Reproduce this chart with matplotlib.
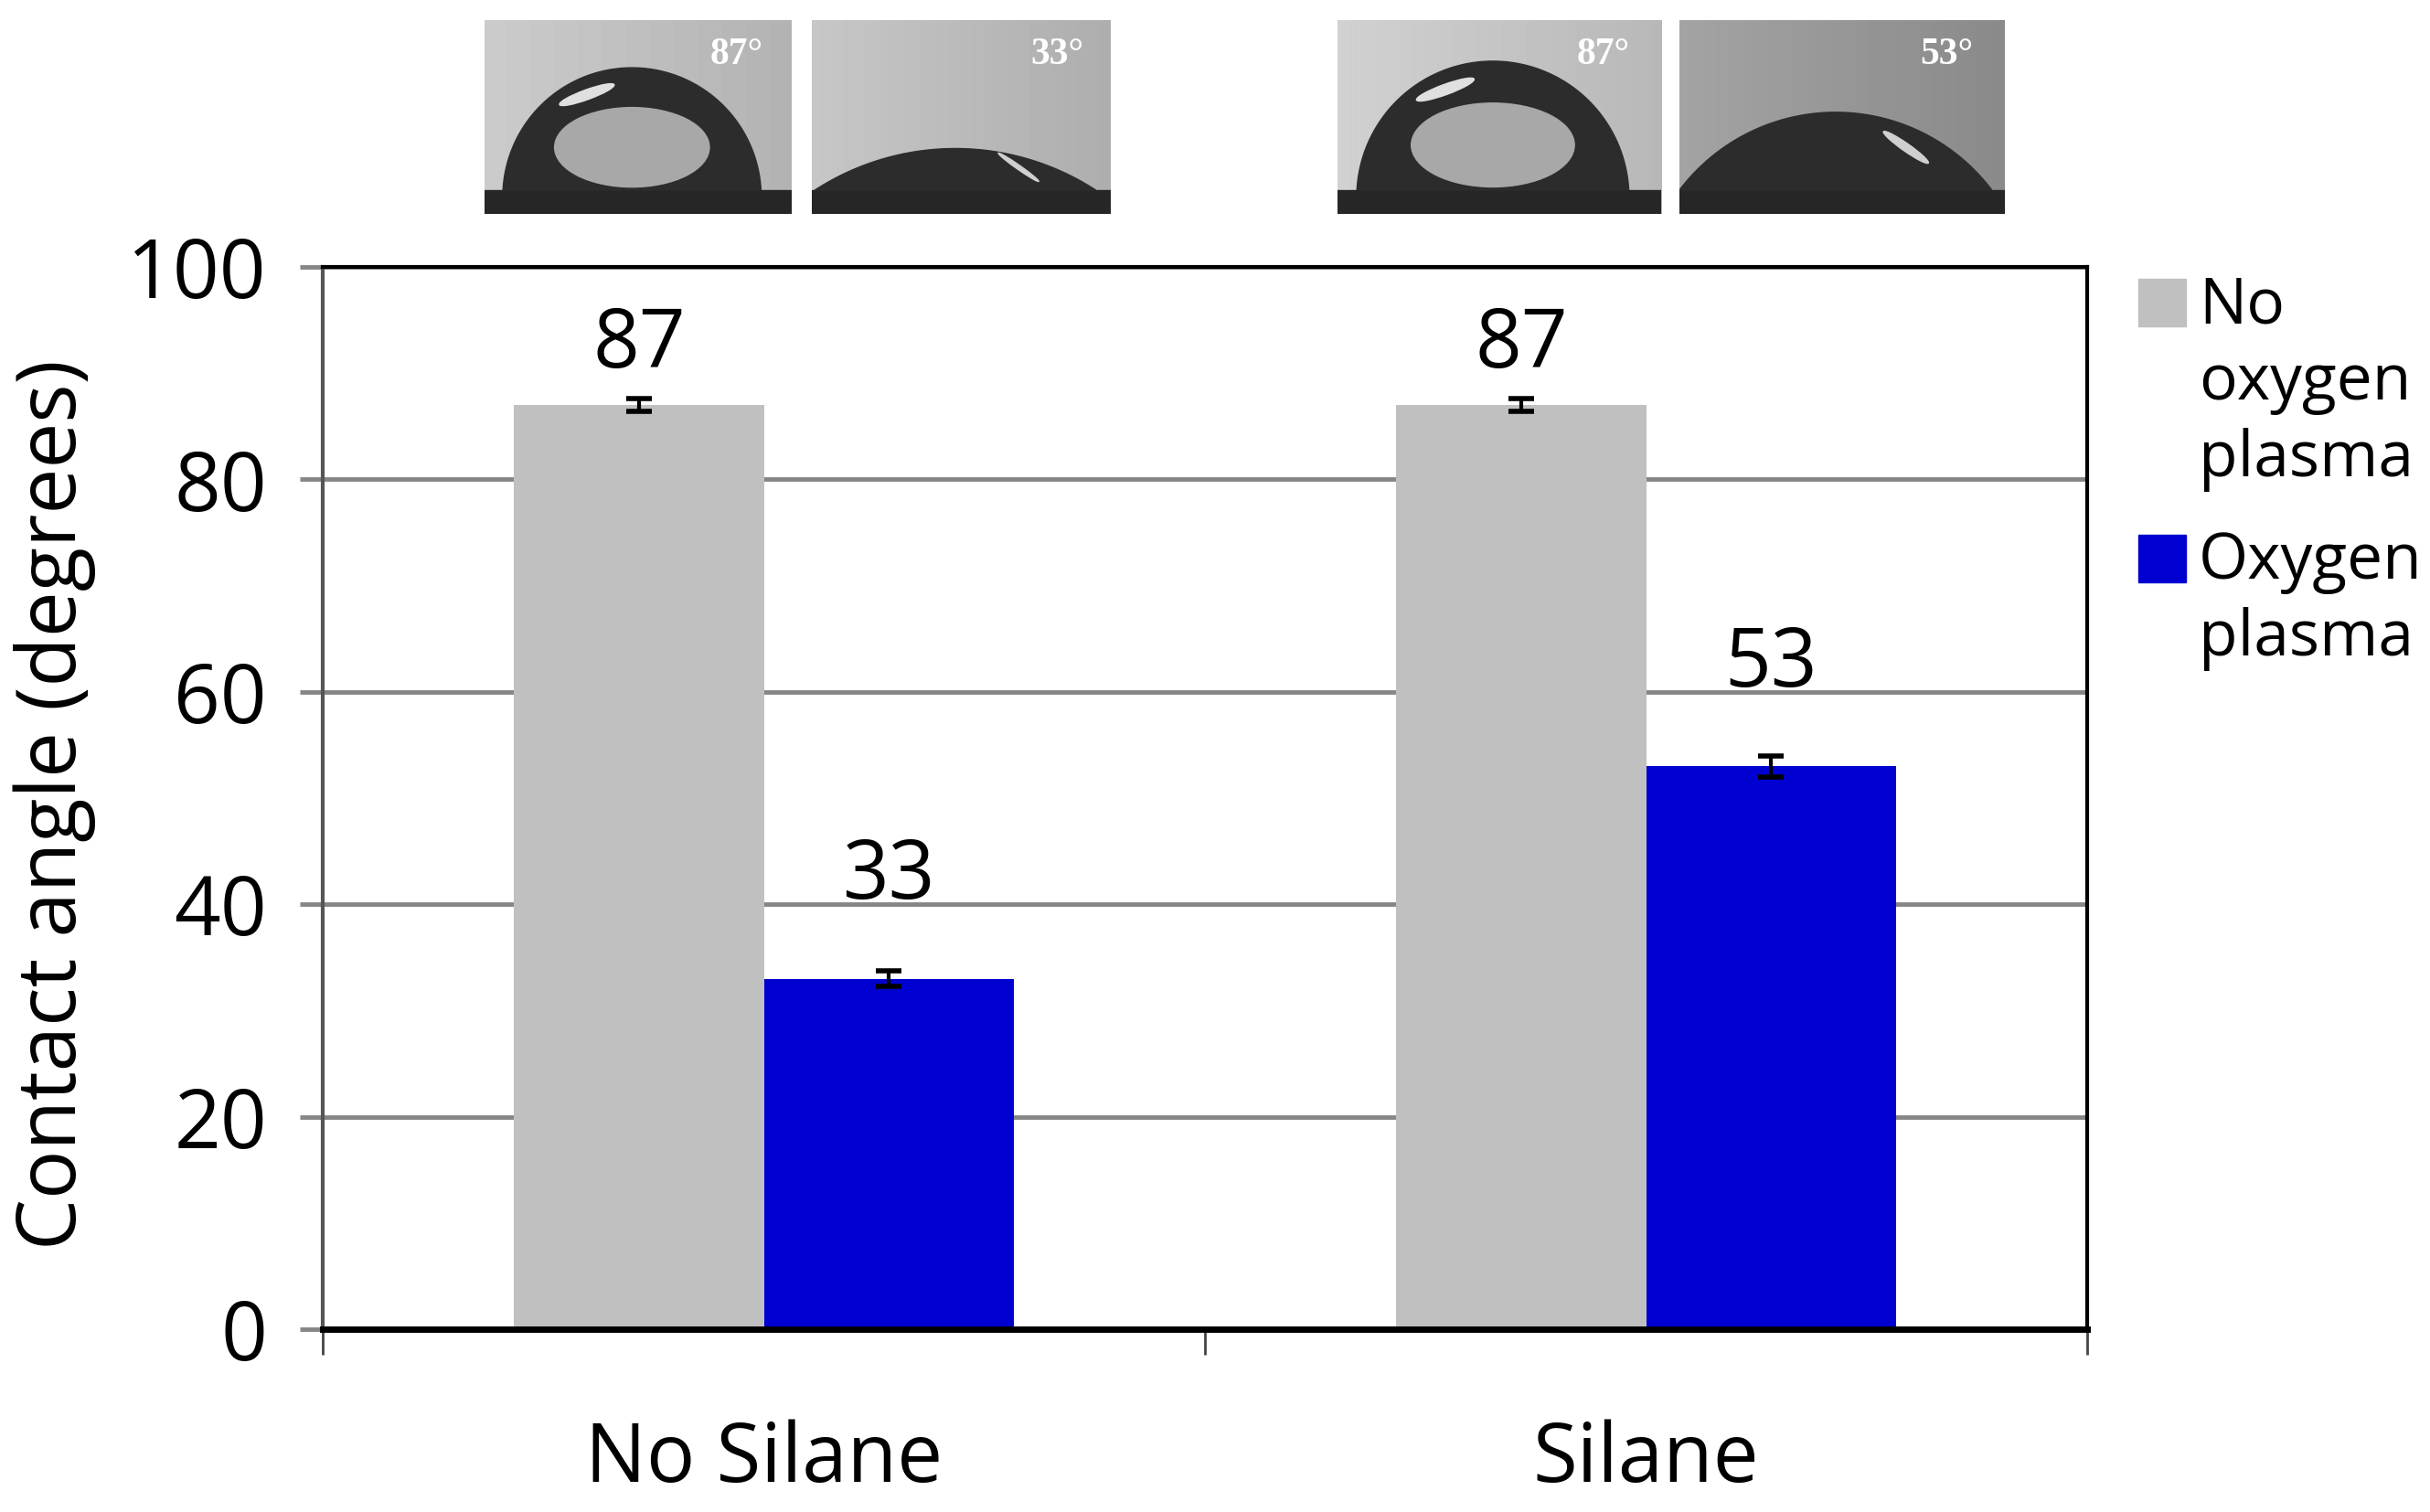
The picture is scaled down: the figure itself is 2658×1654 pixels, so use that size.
import matplotlib.pyplot as plt
from matplotlib.patches import Rectangle, Polygon, Ellipse
import numpy as np

plt.rcParams['font.family'] = ['Open Sans', 'DejaVu Sans']

# data
groups = ["No Silane", "Silane"]
series = ["No\noxygen\nplasma", "Oxygen\nplasma"]
no_plasma = [87, 87]
no_plasma_err = [0.6, 0.6]
plasma = [33, 53]
plasma_err = [0.7, 1.0]
colors = ["#c0c0c0", "#0000d0"]

# droplet photos: (angle, background gray)
photo_angles = [87, 33, 87, 53]
photo_bg = [0.74, 0.72, 0.76, 0.58]

fig = plt.figure(figsize=(26.58, 16.54), dpi=100)
ax = fig.add_axes([353/2658, 1 - 1454/1654, 1930/2658, 1162/1654])

x = np.arange(len(groups))
w = 0.283
ax.bar(x - w/2, no_plasma, w, color=colors[0], zorder=2)
ax.bar(x + w/2, plasma, w, color=colors[1], zorder=2)
ax.errorbar(x - w/2, no_plasma, yerr=no_plasma_err, fmt="none", ecolor="black",
            elinewidth=3, capsize=10, capthick=4, zorder=3)
ax.errorbar(x + w/2, plasma, yerr=plasma_err, fmt="none", ecolor="black",
            elinewidth=3, capsize=10, capthick=4, zorder=3)

# value labels (the oxygen plasma labels sit higher in the original)
for xi, v in zip(x - w/2, no_plasma):
    ax.text(xi, v + 1.6, f"{v}", ha="center", va="bottom", fontsize=64)
for xi, v in zip(x + w/2, plasma):
    ax.text(xi, v + 5.6, f"{v}", ha="center", va="bottom", fontsize=64)

ax.set_xlim(-0.5, 1.5)
ax.set_ylim(0, 100)
ax.set_yticks(range(0, 101, 20))
ax.yaxis.grid(True, color="#868686", linewidth=3.5, zorder=0)
ax.set_axisbelow(True)
ax.tick_params(axis="y", length=18, width=3.5, color="#868686", labelsize=64, pad=26)

# category boundaries as x ticks
ax.set_xticks([-0.5, 0.5, 1.5])
ax.set_xticklabels([])
ax.tick_params(axis="x", length=20, width=2, color="#444444")
for xi, g in zip(x, groups):
    ax.text(xi, -0.124, g, transform=ax.get_xaxis_transform(), ha="center", va="center", fontsize=64)

for s in ["top", "right", "bottom"]:
    ax.spines[s].set_color("black")
    ax.spines[s].set_linewidth(3)
ax.spines["bottom"].set_linewidth(5)
ax.spines["left"].set_color("#555555")
ax.spines["left"].set_linewidth(3)

fig.text(60/2658, 1 - 880/1654, "Contact angle (degrees)", rotation=90,
         ha="center", va="center", fontsize=64)

# legend drawn by hand so the swatch sits on the first line
leg_y = [305, 585]
for c, lab, y in zip(colors, series, leg_y):
    fig.patches.append(Rectangle((2339/2658, 1 - (y + 52)/1654), 52/2658, 52/1654,
                                 transform=fig.transFigure, color=c))
    fig.text(2405/2658, 1 - (y - 5)/1654, lab, fontsize=50, va="top", ha="left", linespacing=1.26)

# droplet pictures above the bars
panels = [(530, 336), (888, 327), (1463, 354), (1837, 356)]
for (left, width), ang, bg in zip(panels, photo_angles, photo_bg):
    pa = fig.add_axes([left/2658, 1 - 234/1654, width/2658, 212/1654])
    H = 212
    grad = np.linspace(bg + 0.06, bg - 0.04, width)[None, :] * np.ones((H, 1))
    pa.imshow(grad, cmap="gray", vmin=0, vmax=1, extent=[0, width, 0, H], aspect="auto")
    base = 26
    pa.add_patch(Rectangle((0, 0), width, base, color="#262626"))
    t = np.radians(ang)
    a = width * (0.42 if ang > 80 else 0.47 if ang < 40 else 0.48)
    R = a / np.sin(t)
    cx = width * 0.48
    cy = base - R * np.cos(t)
    phi = np.linspace(np.pi/2 - t, np.pi/2 + t, 200)
    pts = np.c_[cx + R*np.cos(phi), cy + R*np.sin(phi)]
    pa.add_patch(Polygon(pts, closed=True, color="#2c2c2c"))
    h = R * (1 - np.cos(t))
    if ang > 80:
        pa.add_patch(Ellipse((cx, base + h*0.35), a*1.2, h*0.65, color="#a8a8a8"))
        pa.add_patch(Ellipse((cx - a*0.35, base + h*0.78), a*0.45, h*0.08, angle=20, color="#e0e0e0"))
    else:
        pa.add_patch(Ellipse((cx + a*0.45, base + h*0.55), a*0.35, h*0.1, angle=-35, color="#d0d0d0"))
    pa.text(0.82, 0.82, f"{ang}°", transform=pa.transAxes, color="white", fontsize=30,
            family="Liberation Serif", fontweight="bold", ha="center", va="center")
    pa.set_xlim(0, width)
    pa.set_ylim(0, H)
    pa.axis("off")

fig.savefig("out.png", dpi=100)
